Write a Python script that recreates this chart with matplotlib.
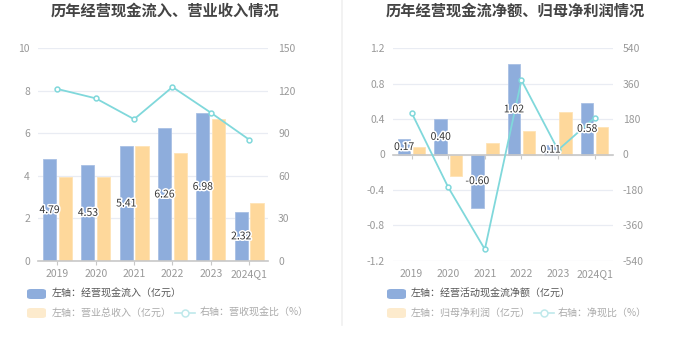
import matplotlib
matplotlib.use("Agg")
import matplotlib.pyplot as plt
import matplotlib.patheffects as pe
from matplotlib.patches import FancyBboxPatch
from matplotlib.lines import Line2D
import numpy as np

plt.rcParams['font.family'] = ['Noto Sans CJK SC', 'DejaVu Sans']
plt.rcParams['axes.unicode_minus'] = False

categories = ["2019", "2020", "2021", "2022", "2023", "2024Q1"]
# left chart
cash_inflow = [4.79, 4.53, 5.41, 6.26, 6.98, 2.32]
revenue = [3.95, 3.95, 5.41, 5.10, 6.67, 2.71]
cash_rev_ratio = [121.3, 114.7, 100.0, 122.7, 104.6, 85.6]
# right chart
net_cash = [0.17, 0.40, -0.60, 1.02, 0.11, 0.58]
net_profit = [0.08, -0.24, 0.13, 0.27, 0.48, 0.31]
net_ratio = [212.5, -166.7, -482.0, 377.8, 22.9, 187.1]

left_title = "历年经营现金流入、营业收入情况"
right_title = "历年经营现金流净额、归母净利润情况"
left_legend = ["左轴：经营现金流入（亿元）", "左轴：营业总收入（亿元）", "右轴：营收现金比（%）"]
right_legend = ["左轴：经营活动现金流净额（亿元）", "左轴：归母净利润（亿元）", "右轴：净现比（%）"]

BLUE = "#8eaddc"
ORANGE = "#fed89b"
TEAL = "#80d8db"
GRID = "#e9ecf3"
TICK = "#999999"
AXIS = "#c8c8c8"

W, H = 680, 349
fig = plt.figure(figsize=(W / 100, H / 100), dpi=100)

def fx(px):
    return px / W

def fy(py):
    return 1 - py / H

x = np.arange(len(categories))
bw = 0.34
off = 0.205
stroke = [pe.withStroke(linewidth=2.2, foreground="white")]

def style_axes(ax, ax2):
    for a in (ax, ax2):
        for s in ("top", "right", "left", "bottom"):
            a.spines[s].set_visible(False)
    ax.tick_params(axis="y", length=0, labelsize=7.5, colors=TICK, pad=6)
    ax2.tick_params(axis="y", length=0, labelsize=7.5, colors=TICK, pad=7)
    ax.grid(axis="y", color=GRID, linewidth=0.9)
    ax.set_axisbelow(True)
    ax.set_xlim(-0.5, len(categories) - 0.5)

# ---------------- left chart ----------------
axL = fig.add_axes([fx(38.3), fy(261), fx(268.3 - 38.3), (261 - 48.3) / H])
axL2 = axL.twinx()
axL.set_zorder(axL2.get_zorder() + 1)
axL.patch.set_visible(False)
axL.bar(x - off, cash_inflow, width=bw, color=BLUE, edgecolor="#a9c0e4", linewidth=0.6, zorder=2)
axL.bar(x + off, revenue, width=bw, color=ORANGE, edgecolor="#fee3b6", linewidth=0.6, zorder=2)
axL.set_ylim(0, 10)
axL.set_yticks([0, 2, 4, 6, 8, 10])
axL2.set_ylim(0, 150)
axL2.set_yticks([0, 30, 60, 90, 120, 150])
style_axes(axL, axL2)
axL.spines["bottom"].set_visible(True)
axL.spines["bottom"].set_color(AXIS)
axL.spines["bottom"].set_linewidth(1.2)
axL.set_xticks(x)
axL.set_xticklabels(categories)
axL.tick_params(axis="x", length=3, color=AXIS, labelsize=7.5, labelcolor=TICK, pad=3)
axL.plot(x, np.array(cash_rev_ratio) / 15.0, color=TEAL, linewidth=1.3, marker="o",
         markersize=3.5, markerfacecolor="white", markeredgecolor=TEAL, markeredgewidth=1.1, zorder=4)
for xi, v in zip(x, cash_inflow):
    axL.text(xi - off, v / 2, f"{v:.2f}", ha="center", va="center", fontsize=7.5,
             color="#333333", path_effects=stroke, zorder=5)

# ---------------- right chart ----------------
axR = fig.add_axes([fx(393.3), fy(260.7), fx(613 - 393.3), (260.7 - 48.3) / H])
axR2 = axR.twinx()
axR.set_zorder(axR2.get_zorder() + 1)
axR.patch.set_visible(False)
axR.bar(x - off, net_cash, width=bw, color=BLUE, edgecolor="#a9c0e4", linewidth=0.6, zorder=2)
axR.bar(x + off, net_profit, width=bw, color=ORANGE, edgecolor="#fee3b6", linewidth=0.6, zorder=2)
axR.set_ylim(-1.2, 1.2)
yt = [-1.2, -0.8, -0.4, 0, 0.4, 0.8, 1.2]
axR.set_yticks(yt)
axR.set_yticklabels(["-1.2", "-0.8", "-0.4", "0", "0.4", "0.8", "1.2"])
axR2.set_ylim(-540, 540)
axR2.set_yticks([-540, -360, -180, 0, 180, 360, 540])
style_axes(axR, axR2)
axR.spines["bottom"].set_visible(True)
axR.spines["bottom"].set_position(("data", 0))
axR.spines["bottom"].set_color(AXIS)
axR.spines["bottom"].set_linewidth(1.2)
axR.set_xticks(x)
axR.tick_params(axis="x", length=3, color=AXIS, labelbottom=False)
sec = axR.secondary_xaxis("bottom")
sec.set_xticks(x)
sec.set_xticklabels(categories)
sec.tick_params(axis="x", length=0, labelsize=7.5, labelcolor=TICK, pad=6)
sec.spines["bottom"].set_visible(False)
axR.plot(x, np.array(net_ratio) / 450.0, color=TEAL, linewidth=1.3, marker="o",
         markersize=3.5, markerfacecolor="white", markeredgecolor=TEAL, markeredgewidth=1.1, zorder=4)
for xi, v in zip(x, net_cash):
    axR.text(xi - off, v / 2, f"{v:.2f}", ha="center", va="center", fontsize=7.5,
             color="#333333", path_effects=stroke, zorder=5)

# ---------------- titles ----------------
fig.text(fx(165), fy(11), left_title, ha="center", va="center", fontsize=11,
         fontweight="bold", color="#444444")
fig.text(fx(515), fy(11), right_title, ha="center", va="center", fontsize=11,
         fontweight="bold", color="#444444")

# separator
fig.add_artist(Line2D([fx(341.5), fx(341.5)], [fy(0), fy(325)], color="#f0f0f0", linewidth=1.2))

# ---------------- legends ----------------
def patch(px, py, color):
    p = FancyBboxPatch((fx(px), fy(py + 5)), fx(19), 10 / H,
                       boxstyle="round,pad=0,rounding_size=0.006",
                       transform=fig.transFigure, facecolor=color, edgecolor="none")
    fig.add_artist(p)

def line_icon(px, py):
    fig.add_artist(Line2D([fx(px), fx(px + 20)], [fy(py), fy(py)], color="#bfe9eb", linewidth=1.2))
    fig.add_artist(Line2D([fx(px + 10)], [fy(py)], color="#bfe9eb", marker="o", markersize=5,
                          markerfacecolor="white", markeredgewidth=1.1))

LS = 7.2
# left
patch(27, 294, BLUE)
fig.text(fx(51.5), fy(294), left_legend[0], ha="left", va="center", fontsize=LS, color="#555555")
patch(27, 313, "#fdebcd")
fig.text(fx(51.5), fy(313), left_legend[1], ha="left", va="center", fontsize=LS, color="#aaaaaa")
line_icon(175, 313)
fig.text(fx(200), fy(313), left_legend[2], ha="left", va="center", fontsize=LS, color="#aaaaaa")
# right
patch(387, 294, BLUE)
fig.text(fx(411), fy(294), right_legend[0], ha="left", va="center", fontsize=LS, color="#555555")
patch(387, 313, "#fdebcd")
fig.text(fx(411), fy(313), right_legend[1], ha="left", va="center", fontsize=LS, color="#aaaaaa")
line_icon(534, 313)
fig.text(fx(558), fy(313), right_legend[2], ha="left", va="center", fontsize=LS, color="#aaaaaa")

fig.savefig("out.png", dpi=100)
